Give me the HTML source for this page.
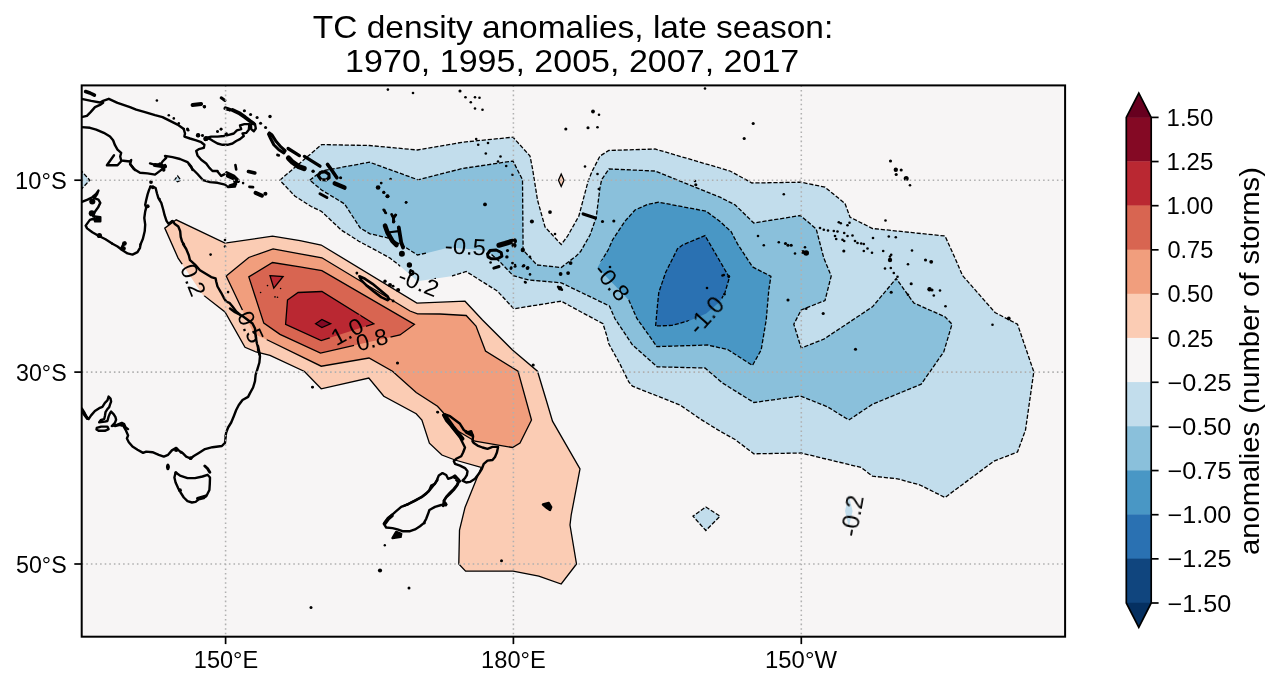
<!DOCTYPE html>
<html lang="en">
<head>
<meta charset="utf-8">
<title>TC density anomalies, late season</title>
<style>
html,body{margin:0;padding:0;background:#ffffff;}
body{width:1280px;height:688px;overflow:hidden;font-family:"Liberation Sans",sans-serif;}
svg{display:block;}
</style>
</head>
<body>
<svg width="1280" height="688" viewBox="0 0 1280 688" role="img" aria-label="TC density anomalies map">
<defs>
<clipPath id="axclip"><rect x="81.7" y="85.4" width="983.4" height="551.3"/></clipPath>
<mask id="lblmask" maskUnits="userSpaceOnUse" x="0" y="0" width="1280" height="688">
<rect x="0" y="0" width="1280" height="688" fill="#fff"/>
<rect x="427.5" y="237.1" width="61.0" height="19.0" fill="#000" transform="rotate(3.0 465.5 246.6)"/>
<rect x="395.5" y="273.0" width="46.0" height="19.0" fill="#000" transform="rotate(22.0 418.5 282.5)"/>
<rect x="589.0" y="272.5" width="46.0" height="19.0" fill="#000" transform="rotate(50.0 612.0 282.0)"/>
<rect x="683.3" y="305.9" width="46.0" height="19.0" fill="#000" transform="rotate(-48.0 706.3 315.4)"/>
<rect x="829.5" y="506.5" width="46.0" height="19.0" fill="#000" transform="rotate(-80.0 852.5 516.0)"/>
<rect x="174.3" y="270.5" width="37.4" height="19.0" fill="#000" transform="rotate(68.0 193.0 280.0)"/>
<rect x="231.8" y="317.5" width="37.4" height="19.0" fill="#000" transform="rotate(65.0 250.5 327.0)"/>
<rect x="328.8" y="321.8" width="37.4" height="19.0" fill="#000" transform="rotate(-28.0 347.5 331.3)"/>
<rect x="353.2" y="330.3" width="37.4" height="19.0" fill="#000" transform="rotate(-15.0 371.9 339.8)"/>
<rect x="436.0" y="271.0" width="16.0" height="12.0" fill="#000"/>
</mask>
</defs>
<rect width="1280" height="688" fill="#ffffff"/>
<g clip-path="url(#axclip)">
<rect x="81.7" y="85.4" width="983.4" height="551.3" fill="#f7f5f5"/>
<polygon points="279.8,180.2 321.6,144.6 369.5,145.5 417.5,150.0 462.5,142.2 513.0,137.2 530.0,156.0 532.5,168.5 537.5,200.0 545.0,226.9 561.2,244.5 567.5,236.2 578.8,216.2 588.1,181.2 592.0,171.5 600.0,156.0 608.8,150.5 655.0,149.0 720.0,168.0 730.0,171.0 752.0,183.0 801.2,182.2 825.0,187.2 845.0,203.5 850.0,217.2 872.5,228.5 945.0,236.0 955.0,258.0 962.5,275.5 995.0,312.5 1017.5,324.2 1033.8,371.8 1025.5,430.0 1017.5,452.0 993.8,461.2 945.0,497.5 920.0,485.0 897.5,478.8 872.5,476.2 861.2,467.5 801.2,453.0 753.8,453.8 735.0,439.5 720.0,431.2 700.0,418.8 680.0,405.0 632.5,386.2 628.8,382.0 620.0,364.1 608.8,343.8 606.9,336.0 603.0,323.8 561.2,301.2 513.8,308.8 497.5,291.2 466.2,271.5 451.2,276.2 417.5,281.3 407.5,272.5 398.8,265.0 390.0,258.1 377.5,251.2 358.8,241.2 341.2,230.0 321.6,211.5 311.2,206.5 295.0,196.2" fill="#c2ddec"/>
<polygon points="705.8,507.0 720.0,516.2 705.8,530.5 693.0,516.2" fill="#c2ddec"/>
<polygon points="848.8,495.0 852.6,511.0 848.8,527.0 845.0,511.0" fill="#c2ddec"/>
<polygon points="80.0,169.4 89.8,180.2 80.0,190.5" fill="#c2ddec"/>
<polygon points="177.6,175.8 180.8,180.2 177.6,181.8 174.4,180.2" fill="#c2ddec"/>
<polygon points="309.8,180.2 321.6,171.0 369.5,162.2 418.0,179.8 462.5,168.5 513.0,161.0 522.5,179.8 523.1,250.0 536.9,265.0 561.2,267.5 576.2,256.0 580.6,251.5 590.0,235.0 596.2,217.5 600.0,187.5 601.7,179.5 609.0,169.0 655.0,171.0 720.0,197.2 735.0,204.8 753.8,223.0 800.5,215.5 816.2,229.0 823.8,258.0 831.2,276.0 825.0,300.5 801.2,310.0 793.8,324.2 801.2,348.0 823.8,339.2 872.5,306.8 896.2,278.5 913.8,303.0 945.0,316.8 952.0,324.2 943.8,351.8 921.2,384.2 872.5,404.2 848.8,420.0 827.5,406.8 800.5,396.0 753.8,402.5 722.5,383.0 705.0,368.0 657.2,366.8 632.5,345.0 615.0,318.8 609.4,306.0 561.2,282.8 528.8,280.0 513.1,275.6 500.0,261.9 487.0,250.5 448.8,247.5 431.2,251.9 417.5,255.0 403.8,246.2 387.5,237.8 370.0,233.8 360.4,228.2 344.4,203.8 321.6,190.0" fill="#8ac0db"/>
<polygon points="597.5,267.5 608.1,250.0 612.5,240.0 625.0,221.2 635.0,210.0 647.5,204.4 658.8,202.2 706.2,211.2 720.0,221.5 731.0,231.5 737.5,243.8 752.5,266.9 770.9,276.3 768.8,290.0 766.2,320.0 761.2,349.8 752.5,365.4 727.5,349.5 707.5,345.0 656.9,346.6 636.9,318.5 628.8,300.0" fill="#4997c5"/>
<polygon points="655.6,326.0 657.5,305.0 658.8,292.5 665.6,272.5 677.5,248.8 682.5,245.0 705.0,235.6 729.4,277.5 725.0,292.5 720.0,301.6 706.2,313.5 690.0,320.4 671.9,325.4" fill="#2a71b2"/>
<polygon points="164.8,228.1 176.2,219.8 225.0,243.1 272.5,236.2 300.0,240.6 321.2,245.0 416.9,303.1 465.0,301.2 482.5,320.0 512.5,350.0 537.5,371.2 546.2,400.0 552.5,421.2 580.0,468.8 571.2,515.0 570.0,525.0 576.5,564.0 561.2,584.0 538.8,576.2 513.1,571.2 465.6,571.2 458.8,564.0 459.5,530.0 465.0,507.5 481.2,467.5 455.0,460.0 441.9,455.0 429.4,443.1 421.9,420.0 416.2,413.8 383.8,396.2 368.8,378.0 321.2,388.8 304.5,371.5 270.0,355.4 256.0,352.0 245.0,347.3 225.0,311.9 202.5,294.4 178.1,258.1" fill="#fbccb4"/>
<polygon points="561.2,174.0 564.0,180.2 561.2,186.5 558.5,180.2" fill="#fbccb4"/>
<polygon points="226.2,276.0 248.8,257.5 273.1,248.8 300.0,253.8 321.9,257.8 410.0,311.0 417.5,313.8 440.0,314.0 466.2,315.5 476.0,326.0 485.5,351.0 518.0,371.2 531.5,420.0 520.0,443.0 512.5,447.5 475.0,441.2 456.2,430.0 443.1,412.5 437.5,406.2 416.2,392.5 392.5,371.2 369.0,358.0 321.2,366.2 267.5,340.0 253.8,333.8 240.0,305.0" fill="#f19e7d"/>
<polygon points="248.8,276.9 272.5,262.5 300.0,266.9 321.9,270.6 414.4,324.4 400.0,335.0 320.5,353.1 280.0,334.4 263.8,323.1" fill="#d86551"/>
<polygon points="287.5,300.0 298.1,292.5 321.9,291.5 373.8,323.8 321.2,340.6 285.6,324.4" fill="#ba2832"/>
<polygon points="270.0,275.6 283.1,276.5 273.8,288.1" fill="#ba2832"/>
<polygon points="315.6,323.8 321.9,319.4 330.6,323.8 321.9,327.5" fill="#840924"/>
<g mask="url(#lblmask)" fill="none" stroke="#000" stroke-width="1.3" stroke-linejoin="miter">
<path d="M279.8 180.2 L321.6 144.6 L369.5 145.5 L417.5 150.0 L462.5 142.2 L513.0 137.2 L530.0 156.0 L532.5 168.5 L537.5 200.0 L545.0 226.9 L561.2 244.5 L567.5 236.2 L578.8 216.2 L588.1 181.2 L592.0 171.5 L600.0 156.0 L608.8 150.5 L655.0 149.0 L720.0 168.0 L730.0 171.0 L752.0 183.0 L801.2 182.2 L825.0 187.2 L845.0 203.5 L850.0 217.2 L872.5 228.5 L945.0 236.0 L955.0 258.0 L962.5 275.5 L995.0 312.5 L1017.5 324.2 L1033.8 371.8 L1025.5 430.0 L1017.5 452.0 L993.8 461.2 L945.0 497.5 L920.0 485.0 L897.5 478.8 L872.5 476.2 L861.2 467.5 L801.2 453.0 L753.8 453.8 L735.0 439.5 L720.0 431.2 L700.0 418.8 L680.0 405.0 L632.5 386.2 L628.8 382.0 L620.0 364.1 L608.8 343.8 L606.9 336.0 L603.0 323.8 L561.2 301.2 L513.8 308.8 L497.5 291.2 L466.2 271.5 L451.2 276.2 L417.5 281.3 L407.5 272.5 L398.8 265.0 L390.0 258.1 L377.5 251.2 L358.8 241.2 L341.2 230.0 L321.6 211.5 L311.2 206.5 L295.0 196.2Z" stroke-dasharray="4.2 1.8"/>
<path d="M705.8 507.0 L720.0 516.2 L705.8 530.5 L693.0 516.2Z" stroke-dasharray="4.2 1.8"/>
<path d="M848.8 495.0 L852.6 511.0 L848.8 527.0 L845.0 511.0Z" stroke-dasharray="4.2 1.8"/>
<path d="M80.0 169.4 L89.8 180.2 L80.0 190.5Z" stroke-dasharray="4.2 1.8"/>
<path d="M177.6 175.8 L180.8 180.2 L177.6 181.8 L174.4 180.2Z" stroke-dasharray="4.2 1.8"/>
<path d="M309.8 180.2 L321.6 171.0 L369.5 162.2 L418.0 179.8 L462.5 168.5 L513.0 161.0 L522.5 179.8 L523.1 250.0 L536.9 265.0 L561.2 267.5 L576.2 256.0 L580.6 251.5 L590.0 235.0 L596.2 217.5 L600.0 187.5 L601.7 179.5 L609.0 169.0 L655.0 171.0 L720.0 197.2 L735.0 204.8 L753.8 223.0 L800.5 215.5 L816.2 229.0 L823.8 258.0 L831.2 276.0 L825.0 300.5 L801.2 310.0 L793.8 324.2 L801.2 348.0 L823.8 339.2 L872.5 306.8 L896.2 278.5 L913.8 303.0 L945.0 316.8 L952.0 324.2 L943.8 351.8 L921.2 384.2 L872.5 404.2 L848.8 420.0 L827.5 406.8 L800.5 396.0 L753.8 402.5 L722.5 383.0 L705.0 368.0 L657.2 366.8 L632.5 345.0 L615.0 318.8 L609.4 306.0 L561.2 282.8 L528.8 280.0 L513.1 275.6 L500.0 261.9 L487.0 250.5 L448.8 247.5 L431.2 251.9 L417.5 255.0 L403.8 246.2 L387.5 237.8 L370.0 233.8 L360.4 228.2 L344.4 203.8 L321.6 190.0Z" stroke-dasharray="4.2 1.8"/>
<path d="M597.5 267.5 L608.1 250.0 L612.5 240.0 L625.0 221.2 L635.0 210.0 L647.5 204.4 L658.8 202.2 L706.2 211.2 L720.0 221.5 L731.0 231.5 L737.5 243.8 L752.5 266.9 L770.9 276.3 L768.8 290.0 L766.2 320.0 L761.2 349.8 L752.5 365.4 L727.5 349.5 L707.5 345.0 L656.9 346.6 L636.9 318.5 L628.8 300.0Z" stroke-dasharray="4.2 1.8"/>
<path d="M655.6 326.0 L657.5 305.0 L658.8 292.5 L665.6 272.5 L677.5 248.8 L682.5 245.0 L705.0 235.6 L729.4 277.5 L725.0 292.5 L720.0 301.6 L706.2 313.5 L690.0 320.4 L671.9 325.4Z" stroke-dasharray="4.2 1.8"/>
<path d="M164.8 228.1 L176.2 219.8 L225.0 243.1 L272.5 236.2 L300.0 240.6 L321.2 245.0 L416.9 303.1 L465.0 301.2 L482.5 320.0 L512.5 350.0 L537.5 371.2 L546.2 400.0 L552.5 421.2 L580.0 468.8 L571.2 515.0 L570.0 525.0 L576.5 564.0 L561.2 584.0 L538.8 576.2 L513.1 571.2 L465.6 571.2 L458.8 564.0 L459.5 530.0 L465.0 507.5 L481.2 467.5 L455.0 460.0 L441.9 455.0 L429.4 443.1 L421.9 420.0 L416.2 413.8 L383.8 396.2 L368.8 378.0 L321.2 388.8 L304.5 371.5 L270.0 355.4 L256.0 352.0 L245.0 347.3 L225.0 311.9 L202.5 294.4 L178.1 258.1Z"/>
<path d="M561.2 174.0 L564.0 180.2 L561.2 186.5 L558.5 180.2Z"/>
<path d="M226.2 276.0 L248.8 257.5 L273.1 248.8 L300.0 253.8 L321.9 257.8 L410.0 311.0 L417.5 313.8 L440.0 314.0 L466.2 315.5 L476.0 326.0 L485.5 351.0 L518.0 371.2 L531.5 420.0 L520.0 443.0 L512.5 447.5 L475.0 441.2 L456.2 430.0 L443.1 412.5 L437.5 406.2 L416.2 392.5 L392.5 371.2 L369.0 358.0 L321.2 366.2 L267.5 340.0 L253.8 333.8 L240.0 305.0Z"/>
<path d="M248.8 276.9 L272.5 262.5 L300.0 266.9 L321.9 270.6 L414.4 324.4 L400.0 335.0 L320.5 353.1 L280.0 334.4 L263.8 323.1Z"/>
<path d="M287.5 300.0 L298.1 292.5 L321.9 291.5 L373.8 323.8 L321.2 340.6 L285.6 324.4Z"/>
<path d="M270.0 275.6 L283.1 276.5 L273.8 288.1Z"/>
<path d="M315.6 323.8 L321.9 319.4 L330.6 323.8 L321.9 327.5Z"/>
</g>
<g fill="none" stroke="#000" stroke-width="2.40" stroke-linejoin="round" stroke-linecap="round">
<path d="M81.5 98.8 L91.2 100.9 L100.0 102.5 L103.1 100.9 L108.8 98.8 L117.5 102.8 L130.0 107.1 L136.2 109.6 L145.0 112.1 L155.0 115.2 L162.5 117.1 L170.0 120.9 L177.5 124.6 L183.8 129.0"/>
<path d="M103.1 102.8 L100.6 104.6 L95.0 107.1 L90.6 112.1 L86.9 115.9 L81.5 117.1"/>
<path d="M85.6 91.5 L90.0 93.0 L94.4 95.2" stroke-width="3.60"/>
<path d="M81.5 127.1 L90.0 127.8 L96.2 129.6 L103.8 132.8 L110.0 136.5 L113.1 140.2 L115.0 145.2 L117.5 149.6 L121.2 152.8 L120.2 156.5 L121.2 160.5 L130.0 161.5 L131.2 160.0 L130.2 164.0 L135.0 170.0"/>
<path d="M114.0 155.2 L106.9 165.2 L117.5 165.2 L121.0 161.5"/>
<path d="M150.0 163.4 L156.2 165.2 L161.2 164.0 L162.5 161.5 L166.2 157.8 L165.0 155.9 L172.5 157.1 L180.0 159.0 L187.5 162.1 L191.2 166.5 L192.5 170.0"/>
<path d="M160.0 164.0 L163.1 167.1 L163.8 170.0" stroke-width="3.40"/>
<path d="M192.5 105.0 L201.2 104.0" stroke-width="3.80"/>
<path d="M221.2 97.8 L225.0 100.5" stroke-width="3.00"/>
<path d="M225.6 108.0 L230.0 109.6" stroke-width="3.40"/>
<path d="M225.0 108.5 L229.4 109.8" stroke-width="3.20"/>
<path d="M232.5 110.0 L238.8 112.9 L245.0 117.2 L250.0 121.0 L253.5 123.5" stroke-width="3.90"/>
<path d="M251.9 122.9 L255.0 124.1 L255.8 128.5 L253.8 131.2 L251.2 129.1 L251.0 125.0Z"/>
<path d="M206.2 137.9 L211.2 136.6 L217.5 136.6 L223.8 136.0 L228.8 134.8 L233.8 133.5 L236.9 130.4 L241.2 129.1 L240.0 125.4 L244.4 124.1 L249.4 124.1 L248.8 129.8 L246.2 132.9 L242.5 133.5 L243.8 136.0 L240.0 139.1 L236.2 141.0 L232.5 143.5 L227.5 144.8 L222.5 144.8 L217.5 143.5 L213.1 141.0 L210.0 139.1Z"/>
<path d="M183.8 129.1 L185.0 133.5 L184.4 136.6 L190.0 138.5 L196.2 140.4 L201.2 142.2 L204.4 144.8 L203.8 147.9 L198.8 149.1 L196.2 151.0 L197.5 155.4 L201.2 159.8 L206.2 163.5 L209.4 167.9 L212.5 171.0 L217.5 171.0"/>
<path d="M235.4 165.0 L236.2 169.5" stroke-width="2.60"/>
<path d="M226.9 173.2 L233.8 176.6 L238.1 181.0" stroke-width="4.00"/>
<path d="M269.4 132.9 L272.1 135.0 L276.2 141.6 L281.2 147.2 L285.2 150.6 L283.8 152.9 L278.8 149.8 L273.8 144.8 L270.6 138.5 L268.5 134.1Z" stroke-width="3.00"/>
<path d="M288.1 148.5 L299.4 155.6" stroke-width="3.30"/>
<path d="M288.5 158.1 L292.5 162.2 L298.8 166.6 L304.1 168.5" stroke-width="5.20"/>
<path d="M304.4 156.4 L320.0 166.2" stroke-width="3.30"/>
<path d="M150.4 186.6 L148.8 190.6 L147.6 194.4 L146.2 200.1 L145.2 204.8 L146.2 207.6 L145.2 211.4 L144.3 218.0 L145.2 224.6 L144.7 231.3 L142.9 238.8 L140.5 244.5"/>
<path d="M150.4 186.6 L153.3 186.8 L155.6 188.0 L157.0 193.5 L158.4 198.2 L161.3 202.9 L163.2 209.5 L164.6 215.2 L166.5 220.9 L168.4 223.7 L172.6 220.9 L174.5 223.7 L178.3 226.5 L180.2 231.3 L180.7 236.9 L182.1 241.7 L184.0 244.5"/>
<path d="M81.9 201.8 L87.6 199.6 L92.3 197.2 L96.1 193.9 L98.4 190.6 L97.0 194.4 L94.2 198.2 L98.4 199.6 L100.3 202.9 L98.0 207.6 L95.1 211.4 L93.2 216.1 L96.5 216.6 L100.3 217.1 L100.3 221.3 L95.1 221.3 L94.2 218.5 L89.9 219.9 L85.7 225.6 L87.1 228.4 L92.3 232.2 L98.0 235.5 L105.5 239.3 L112.1 243.5"/>
<path d="M130.0 164.0 L133.8 169.0 L140.0 172.8 L147.5 173.4 L155.0 174.6 L160.0 170.9 L163.8 167.8 L165.2 165.0"/>
<path d="M155.0 165.0 L165.0 166.5" stroke-width="4.20"/>
<path d="M188.8 164.0 L192.5 169.0 L197.5 174.0 L203.1 180.2 L210.0 182.1 L217.5 182.8 L225.0 184.6 L228.1 187.1 L235.0 186.5 L236.5 180.2 L231.2 175.2 L226.2 173.4 L221.2 175.9 L217.5 171.5"/>
<path d="M227.5 175.9 L234.4 179.0 L235.6 184.0 L230.0 185.9" stroke-width="3.40"/>
<path d="M248.5 171.5 L254.8 173.0" stroke-width="3.60"/>
<path d="M249.4 186.9 L253.1 187.1" stroke-width="2.60"/>
<path d="M255.6 192.8 L261.9 195.6" stroke-width="4.00"/>
<path d="M318.1 175.6 L320.4 172.5 L325.0 171.6 L328.8 174.1 L329.1 177.8 L326.0 180.0 L321.0 179.5Z" stroke-width="3.20"/>
<path d="M327.5 164.4 L332.5 171.2 L336.9 177.8" stroke-width="3.60"/>
<path d="M334.8 183.5 L344.4 187.5" stroke-width="4.60"/>
<path d="M320.0 193.8 L326.9 197.5" stroke-width="3.00"/>
<path d="M384.4 209.8 L385.2 212.8" stroke-width="2.20"/>
<path d="M391.5 214.4 L393.5 218.1 L395.4 214.8" stroke-width="2.40"/>
<path d="M393.5 218.1 L393.5 221.9" stroke-width="2.40"/>
<path d="M383.5 209.8 L386.0 213.0" stroke-width="2.40"/>
<path d="M385.0 225.6 L387.5 232.5 L392.5 241.2 L396.5 245.0" stroke-width="4.60"/>
<path d="M398.8 227.5 L400.0 235.0 L401.2 242.5 L403.1 247.5" stroke-width="3.80"/>
<path d="M387.5 232.5 L398.8 231.2" stroke-width="2.20"/>
<path d="M391.9 214.4 L393.5 218.1 L396.0 215.0" stroke-width="2.40"/>
<path d="M393.5 218.1 L393.5 222.2" stroke-width="2.60"/>
<path d="M359.4 276.2 L365.0 278.8 L372.5 283.8 L380.0 290.0 L387.5 296.2 L389.0 299.0 L387.5 300.2 L381.2 297.1 L373.8 291.5 L366.2 285.2 L361.2 280.2Z" stroke-width="2.60"/>
<path d="M410.6 270.2 L413.1 271.5 L413.1 274.0 L411.0 274.8 L409.8 272.5Z"/>
<path d="M499.0 245.2 L505.0 243.5 L510.0 241.9 L514.4 241.0" stroke-width="5.20"/>
<path d="M487.5 253.8 L490.0 250.6 L496.2 250.0 L501.2 252.5 L501.9 256.2 L497.5 258.8 L491.2 258.8 L488.1 256.9Z" stroke-width="3.00"/>
<path d="M493.8 268.1 L499.0 266.5" stroke-width="3.00"/>
<path d="M583.2 214.0 L595.5 218.0" stroke-width="3.20"/>
<path d="M558.0 286.8 L562.0 289.8" stroke-width="2.40"/>
<path d="M543.0 504.5 L548.8 503.0 L551.2 507.0 L550.0 510.0 L547.0 508.0Z" fill="#000"/>
<path d="M112.0 243.5 L117.5 246.5 L122.5 250.2 L127.5 253.4 L132.5 254.6 L137.5 252.1 L140.0 247.8 L140.5 244.5"/>
<path d="M121.2 249.0 L123.1 245.2 L125.0 242.8" stroke-width="2.80"/>
<path d="M183.1 244.0 L186.2 249.0 L188.8 255.2 L190.0 260.2 L195.0 264.6 L200.0 270.2 L206.2 274.0 L211.2 277.1 L215.6 278.4 L216.2 281.5 L217.5 286.5 L221.2 292.8 L223.8 297.8 L226.2 301.5 L229.4 302.8 L232.5 306.5 L236.2 311.5 L240.0 314.6"/>
<path d="M230.0 308.5 L235.0 312.2 L240.0 314.8 L242.5 316.0 L247.5 319.8 L252.5 323.5 L255.0 328.5 L255.6 336.0 L256.9 343.5 L258.8 349.8 L259.8 354.8"/>
<path d="M258.1 346.2 L258.1 350.0 L260.0 356.2 L259.4 362.5 L257.5 368.8 L255.6 375.0 L255.0 381.2 L253.1 387.5 L250.0 393.1 L248.1 396.9 L242.5 400.0 L238.8 405.0 L236.2 410.0 L233.8 416.2 L231.2 422.5 L228.1 427.5 L226.2 432.5 L225.6 436.0"/>
<path d="M225.8 435.8 L225.4 439.1 L225.0 442.9 L221.9 446.0 L212.5 447.2 L205.0 449.1 L198.8 452.9 L193.8 456.0 L190.6 458.5 L186.2 456.6 L182.5 452.9 L179.4 451.0 L176.2 447.9 L171.9 450.4 L168.1 454.8 L163.8 456.6 L158.8 454.8 L152.5 452.2 L146.2 451.6 L143.1 452.9 L137.5 449.8 L132.5 446.6 L128.8 442.2 L126.9 438.5 L128.1 435.4 L125.6 429.8 L123.1 425.4 L120.0 424.8 L115.0 426.0"/>
<path d="M81.8 408.5 L84.9 413.5 L86.8 417.2 L88.6 419.1 L91.1 415.4 L94.9 411.0 L99.2 408.2 L102.4 406.9 L104.9 402.9 L107.4 400.4 L108.6 396.6 L110.5 398.5 L111.1 401.6 L109.9 404.8 L109.2 407.2 L107.4 409.1 L105.5 412.2 L104.9 416.0 L104.2 419.1 L101.1 419.8 L99.2 422.2 L104.9 421.6 L107.4 421.0 L108.6 416.6 L109.9 413.5 L111.1 411.6 L113.6 414.1 L115.5 417.2 L116.1 419.8 L114.9 422.9 L113.0 424.8 L111.8 426.0 L116.8 424.8 L121.8 422.9 L124.2 424.1 L125.5 427.2 L128.0 429.1"/>
<path d="M96.8 427.9 L101.1 426.6 L107.4 426.6 L108.6 429.1 L104.9 430.8 L98.6 430.8 L96.5 429.5Z"/>
<path d="M81.8 411.0 L87.4 418.5" stroke-width="3.00"/>
<path d="M175.6 472.5 L180.0 475.6 L187.5 478.1 L195.0 478.1 L202.5 476.5 L207.5 474.8 L210.0 477.5 L209.8 483.8 L209.4 490.0 L206.9 495.0 L203.8 498.1 L198.8 499.4 L195.6 501.9 L191.9 502.5 L187.5 501.2 L183.8 497.5 L180.6 492.5 L178.1 488.1 L175.6 482.5 L174.4 477.5Z"/>
<path d="M204.8 466.0 L207.5 468.5 L209.8 472.2" stroke-width="3.00"/>
<path d="M197.5 498.5 L206.0 496.0" stroke-width="3.00"/>
<path d="M167.9 465.0 L167.9 468.8" stroke-width="3.00"/>
<path d="M443.1 415.0 L446.2 420.6 L450.0 425.0 L455.0 431.2 L460.0 437.5 L462.5 442.5 L465.0 447.5 L463.1 452.5 L461.2 456.2 L456.2 458.8 L453.8 461.2 L455.0 463.8 L460.0 465.6 L465.0 468.1 L467.5 471.2 L466.9 475.0 L465.0 478.1 L462.5 480.6 L466.2 482.5 L470.0 481.9 L475.0 478.8 L478.8 473.8 L481.9 468.8 L483.8 463.8 L487.5 460.6 L492.5 460.0 L495.0 456.9 L496.9 452.5 L498.1 446.9 L492.5 446.9 L487.5 448.8 L482.5 447.5 L477.5 445.6 L473.8 443.1 L472.5 441.2 L473.1 436.2 L471.2 431.2 L467.5 432.5 L463.8 430.0 L460.0 423.8 L455.0 420.0 L450.0 416.2 L445.0 414.4"/>
<path d="M444.4 415.0 L448.1 420.0 L452.5 426.2 L457.5 432.5 L462.5 438.8" stroke-width="4.00"/>
<path d="M466.2 431.9 L471.9 435.0" stroke-width="3.40"/>
<path d="M460.0 481.2 L458.1 478.8 L455.0 475.6 L451.9 477.5 L448.1 478.8 L446.2 475.0 L442.5 473.1 L438.8 475.6 L436.9 480.0 L435.0 483.8 L431.2 485.6 L429.4 490.0 L426.2 493.8 L421.2 497.5 L415.0 500.6 L408.8 503.8 L403.8 506.0"/>
<path d="M458.8 481.9 L457.5 485.0 L453.8 490.0 L450.0 493.8 L446.2 497.5 L443.8 501.2 L443.1 506.0"/>
<path d="M407.5 504.4 L401.2 506.9 L396.2 511.2 L391.2 515.6 L386.9 520.0 L383.8 523.8 L386.2 527.5 L392.5 528.1 L397.5 529.4 L402.5 531.2 L410.0 531.2 L415.0 529.4 L420.0 526.2 L423.8 523.1 L426.2 518.8 L428.1 513.8 L429.4 510.0 L435.0 506.9 L441.2 505.0 L446.2 504.4 L443.8 500.6 L446.2 496.9 L450.0 492.5 L453.8 488.8 L456.9 485.0 L458.1 481.9 L456.2 480.0"/>
<path d="M437.5 480.0 L433.8 485.0 L428.8 491.2 L422.5 496.2 L415.0 500.6 L407.5 504.4"/>
<path d="M385.0 523.1 L388.1 518.8 L391.9 515.6" stroke-width="3.80"/>
<path d="M392.5 538.1 L396.2 531.9 L401.2 533.8 L400.6 536.9Z" fill="#000"/>
</g>
<g fill="#000">
<circle cx="204.4" cy="106.8" r="1.72"/>
<circle cx="156.9" cy="100.5" r="1.30"/>
<circle cx="168.8" cy="115.2" r="1.30"/>
<circle cx="173.8" cy="118.4" r="1.30"/>
<circle cx="178.8" cy="123.4" r="1.30"/>
<circle cx="188.1" cy="130.2" r="1.41"/>
<circle cx="198.1" cy="135.2" r="2.19"/>
<circle cx="202.5" cy="135.2" r="1.30"/>
<circle cx="205.6" cy="139.0" r="2.19"/>
<circle cx="217.5" cy="131.5" r="1.30"/>
<circle cx="221.0" cy="129.2" r="1.41"/>
<circle cx="226.2" cy="134.0" r="1.56"/>
<circle cx="244.4" cy="110.8" r="1.56"/>
<circle cx="250.6" cy="114.5" r="1.56"/>
<circle cx="257.1" cy="117.5" r="1.56"/>
<circle cx="260.6" cy="123.2" r="1.56"/>
<circle cx="265.6" cy="127.5" r="1.56"/>
<circle cx="270.0" cy="116.5" r="1.72"/>
<circle cx="221.2" cy="129.1" r="1.30"/>
<circle cx="217.5" cy="131.6" r="1.30"/>
<circle cx="226.2" cy="133.5" r="1.41"/>
<circle cx="187.5" cy="129.1" r="1.56"/>
<circle cx="198.1" cy="135.4" r="1.88"/>
<circle cx="202.5" cy="135.8" r="1.30"/>
<circle cx="206.0" cy="138.5" r="2.50"/>
<circle cx="204.4" cy="106.6" r="1.56"/>
<circle cx="278.8" cy="155.4" r="1.30"/>
<circle cx="387.9" cy="89.6" r="1.30"/>
<circle cx="152.8" cy="187.3" r="1.89"/>
<circle cx="147.6" cy="206.2" r="2.01"/>
<circle cx="159.4" cy="199.1" r="1.42"/>
<circle cx="172.2" cy="221.6" r="1.65"/>
<circle cx="151.0" cy="182.1" r="1.88"/>
<circle cx="92.3" cy="201.5" r="3.07"/>
<circle cx="91.8" cy="213.3" r="3.07"/>
<circle cx="97.5" cy="219.2" r="2.60"/>
<circle cx="99.4" cy="235.5" r="2.60"/>
<circle cx="124.4" cy="243.5" r="2.36"/>
<circle cx="243.1" cy="183.1" r="1.30"/>
<circle cx="265.4" cy="193.8" r="2.03"/>
<circle cx="313.1" cy="171.2" r="1.72"/>
<circle cx="340.6" cy="177.8" r="1.56"/>
<circle cx="378.1" cy="187.5" r="2.34"/>
<circle cx="381.2" cy="183.1" r="1.41"/>
<circle cx="383.8" cy="192.2" r="1.41"/>
<circle cx="387.5" cy="196.2" r="1.72"/>
<circle cx="390.6" cy="179.0" r="1.30"/>
<circle cx="277.5" cy="155.0" r="1.41"/>
<circle cx="393.8" cy="221.2" r="1.56"/>
<circle cx="383.8" cy="192.5" r="1.56"/>
<circle cx="387.5" cy="196.2" r="2.03"/>
<circle cx="406.0" cy="202.5" r="1.30"/>
<circle cx="401.9" cy="253.8" r="2.97"/>
<circle cx="409.4" cy="265.0" r="2.66"/>
<circle cx="356.9" cy="273.1" r="1.30"/>
<circle cx="356.9" cy="273.1" r="1.30"/>
<circle cx="385.0" cy="281.2" r="1.72"/>
<circle cx="390.0" cy="285.0" r="2.03"/>
<circle cx="393.1" cy="286.2" r="1.41"/>
<circle cx="398.1" cy="290.0" r="2.03"/>
<circle cx="393.1" cy="301.0" r="1.41"/>
<circle cx="514.0" cy="245.2" r="2.50"/>
<circle cx="507.5" cy="250.6" r="1.56"/>
<circle cx="506.9" cy="256.9" r="1.72"/>
<circle cx="490.6" cy="262.5" r="1.30"/>
<circle cx="512.5" cy="263.1" r="1.41"/>
<circle cx="515.0" cy="266.2" r="1.56"/>
<circle cx="511.0" cy="268.5" r="1.41"/>
<circle cx="523.8" cy="265.6" r="1.56"/>
<circle cx="527.5" cy="268.1" r="1.88"/>
<circle cx="530.0" cy="274.4" r="1.30"/>
<circle cx="525.6" cy="282.5" r="1.30"/>
<circle cx="522.8" cy="250.0" r="2.19"/>
<circle cx="485.0" cy="204.4" r="1.88"/>
<circle cx="550.0" cy="212.1" r="1.88"/>
<circle cx="531.9" cy="221.5" r="2.03"/>
<circle cx="555.0" cy="234.0" r="1.30"/>
<circle cx="570.6" cy="263.1" r="1.88"/>
<circle cx="560.6" cy="274.0" r="1.88"/>
<circle cx="568.1" cy="273.1" r="1.88"/>
<circle cx="530.0" cy="256.9" r="1.30"/>
<circle cx="413.0" cy="93.0" r="1.30"/>
<circle cx="460.0" cy="91.0" r="1.56"/>
<circle cx="465.5" cy="97.2" r="1.30"/>
<circle cx="470.8" cy="102.2" r="1.30"/>
<circle cx="475.0" cy="97.2" r="1.30"/>
<circle cx="479.5" cy="97.8" r="1.30"/>
<circle cx="475.0" cy="108.5" r="1.30"/>
<circle cx="482.5" cy="109.8" r="1.30"/>
<circle cx="476.2" cy="139.0" r="1.30"/>
<circle cx="478.2" cy="144.8" r="1.30"/>
<circle cx="488.0" cy="143.0" r="1.30"/>
<circle cx="485.8" cy="153.5" r="1.30"/>
<circle cx="500.5" cy="156.5" r="1.30"/>
<circle cx="498.0" cy="161.5" r="1.30"/>
<circle cx="506.2" cy="166.0" r="1.30"/>
<circle cx="512.5" cy="174.8" r="1.30"/>
<circle cx="406.2" cy="202.2" r="1.30"/>
<circle cx="565.8" cy="129.0" r="1.56"/>
<circle cx="588.0" cy="127.8" r="1.56"/>
<circle cx="597.5" cy="127.2" r="1.30"/>
<circle cx="593.0" cy="111.5" r="1.88"/>
<circle cx="599.0" cy="114.8" r="1.30"/>
<circle cx="705.0" cy="88.5" r="1.30"/>
<circle cx="585.0" cy="166.5" r="1.30"/>
<circle cx="597.5" cy="174.0" r="1.30"/>
<circle cx="598.8" cy="189.0" r="1.30"/>
<circle cx="602.5" cy="221.5" r="1.56"/>
<circle cx="613.8" cy="221.0" r="1.56"/>
<circle cx="695.0" cy="181.0" r="1.30"/>
<circle cx="695.8" cy="184.8" r="1.56"/>
<circle cx="753.2" cy="123.5" r="1.56"/>
<circle cx="744.2" cy="138.5" r="1.56"/>
<circle cx="783.8" cy="194.2" r="1.30"/>
<circle cx="890.5" cy="161.0" r="1.56"/>
<circle cx="895.8" cy="169.8" r="2.19"/>
<circle cx="901.2" cy="170.0" r="1.56"/>
<circle cx="896.2" cy="174.5" r="1.56"/>
<circle cx="906.2" cy="178.5" r="2.50"/>
<circle cx="910.0" cy="185.2" r="1.30"/>
<circle cx="885.5" cy="220.5" r="1.30"/>
<circle cx="838.8" cy="222.2" r="1.30"/>
<circle cx="840.8" cy="223.2" r="1.30"/>
<circle cx="849.5" cy="222.8" r="1.30"/>
<circle cx="847.5" cy="225.2" r="1.30"/>
<circle cx="820.0" cy="228.0" r="1.30"/>
<circle cx="823.8" cy="229.8" r="1.30"/>
<circle cx="828.0" cy="230.5" r="1.30"/>
<circle cx="833.8" cy="231.0" r="1.30"/>
<circle cx="837.5" cy="231.5" r="1.30"/>
<circle cx="844.2" cy="233.0" r="1.30"/>
<circle cx="835.0" cy="236.0" r="1.30"/>
<circle cx="836.2" cy="239.0" r="1.30"/>
<circle cx="847.5" cy="236.0" r="1.30"/>
<circle cx="842.5" cy="239.8" r="1.30"/>
<circle cx="844.2" cy="241.0" r="1.30"/>
<circle cx="852.5" cy="235.5" r="1.30"/>
<circle cx="855.0" cy="241.0" r="1.30"/>
<circle cx="857.5" cy="243.0" r="1.30"/>
<circle cx="861.2" cy="243.5" r="1.30"/>
<circle cx="863.8" cy="244.0" r="1.30"/>
<circle cx="873.0" cy="238.0" r="1.30"/>
<circle cx="888.8" cy="236.5" r="1.30"/>
<circle cx="895.8" cy="237.2" r="1.30"/>
<circle cx="867.5" cy="248.5" r="1.30"/>
<circle cx="863.8" cy="251.0" r="1.30"/>
<circle cx="872.0" cy="252.8" r="1.30"/>
<circle cx="843.8" cy="251.0" r="1.56"/>
<circle cx="883.2" cy="251.0" r="1.30"/>
<circle cx="912.0" cy="250.5" r="1.30"/>
<circle cx="891.2" cy="254.8" r="1.30"/>
<circle cx="890.0" cy="256.5" r="1.30"/>
<circle cx="785.5" cy="243.5" r="1.56"/>
<circle cx="788.0" cy="245.2" r="1.56"/>
<circle cx="791.2" cy="245.2" r="1.56"/>
<circle cx="778.8" cy="242.2" r="1.30"/>
<circle cx="758.0" cy="236.0" r="1.30"/>
<circle cx="763.8" cy="245.2" r="1.30"/>
<circle cx="805.0" cy="247.2" r="1.30"/>
<circle cx="806.2" cy="253.0" r="2.81"/>
<circle cx="803.0" cy="252.0" r="1.88"/>
<circle cx="795.0" cy="253.5" r="1.30"/>
<circle cx="788.0" cy="300.0" r="1.56"/>
<circle cx="823.2" cy="313.5" r="1.56"/>
<circle cx="806.2" cy="308.8" r="1.30"/>
<circle cx="855.5" cy="349.2" r="1.56"/>
<circle cx="891.2" cy="292.2" r="1.56"/>
<circle cx="911.2" cy="283.8" r="1.56"/>
<circle cx="908.0" cy="294.8" r="1.30"/>
<circle cx="929.5" cy="289.2" r="2.19"/>
<circle cx="932.0" cy="290.0" r="1.56"/>
<circle cx="940.0" cy="290.5" r="1.30"/>
<circle cx="933.8" cy="295.5" r="1.30"/>
<circle cx="945.5" cy="306.2" r="1.30"/>
<circle cx="1008.8" cy="318.5" r="1.88"/>
<circle cx="992.5" cy="324.8" r="1.30"/>
<circle cx="890.0" cy="260.0" r="2.19"/>
<circle cx="885.0" cy="268.5" r="1.30"/>
<circle cx="890.8" cy="268.0" r="1.30"/>
<circle cx="893.8" cy="273.0" r="1.30"/>
<circle cx="897.5" cy="276.8" r="1.30"/>
<circle cx="925.5" cy="260.0" r="1.56"/>
<circle cx="931.2" cy="261.8" r="1.88"/>
<circle cx="908.0" cy="264.2" r="1.30"/>
<circle cx="722.5" cy="275.5" r="1.30"/>
<circle cx="728.8" cy="276.8" r="1.30"/>
<circle cx="724.5" cy="294.2" r="1.30"/>
<circle cx="560.0" cy="288.2" r="2.19"/>
<circle cx="533.2" cy="365.0" r="1.56"/>
<circle cx="707.0" cy="288.0" r="1.30"/>
<circle cx="610.0" cy="267.0" r="1.30"/>
<circle cx="511.2" cy="267.5" r="1.30"/>
<circle cx="515.0" cy="265.0" r="1.30"/>
<circle cx="523.0" cy="266.2" r="1.30"/>
<circle cx="528.0" cy="267.5" r="1.30"/>
<circle cx="525.0" cy="282.0" r="1.30"/>
<circle cx="723.8" cy="275.0" r="1.30"/>
<circle cx="728.8" cy="276.2" r="1.30"/>
<circle cx="397.5" cy="363.0" r="1.56"/>
<circle cx="312.5" cy="387.0" r="1.30"/>
<circle cx="437.5" cy="412.0" r="1.30"/>
<circle cx="311.0" cy="607.5" r="1.50"/>
<circle cx="380.0" cy="570.5" r="2.10"/>
<circle cx="409.0" cy="588.0" r="1.50"/>
<circle cx="384.8" cy="545.2" r="1.20"/>
<circle cx="501.5" cy="560.8" r="1.50"/>
<circle cx="123.8" cy="248.4" r="2.03"/>
<circle cx="210.6" cy="254.6" r="1.30"/>
<circle cx="225.0" cy="246.5" r="1.30"/>
<circle cx="228.1" cy="292.1" r="1.30"/>
<circle cx="225.0" cy="240.0" r="1.30"/>
<circle cx="312.5" cy="387.2" r="1.30"/>
<circle cx="121.9" cy="424.8" r="1.88"/>
<circle cx="190.6" cy="458.2" r="1.88"/>
<circle cx="176.2" cy="449.8" r="2.19"/>
<circle cx="181.2" cy="452.2" r="1.56"/>
<circle cx="167.9" cy="466.9" r="2.03"/>
<circle cx="180.0" cy="490.2" r="1.88"/>
<circle cx="176.0" cy="472.8" r="1.56"/>
<circle cx="455.0" cy="477.2" r="2.03"/>
<circle cx="437.8" cy="412.2" r="1.30"/>
<circle cx="445.2" cy="504.4" r="2.19"/>
<circle cx="424.4" cy="523.1" r="1.41"/>
<circle cx="260.6" cy="292.5" r="0.80"/>
<circle cx="267.5" cy="285.6" r="0.80"/>
<circle cx="280.6" cy="288.5" r="0.80"/>
<circle cx="275.0" cy="296.9" r="0.80"/>
<circle cx="277.5" cy="297.2" r="0.80"/>
</g>
<g font-family='"Liberation Sans", sans-serif' font-size="23" fill="#000" opacity="0.999">
<text transform="translate(465.5 246.6) rotate(3.0) translate(-20.56 7.9) scale(1.0360 1)">-0.5</text>
<text transform="translate(418.5 282.5) rotate(22.0) translate(-20.56 7.9) scale(1.0413 1)">-0.2</text>
<text transform="translate(612.0 282.0) rotate(50.0) translate(-20.56 7.9) scale(1.0369 1)">-0.8</text>
<text transform="translate(706.3 315.4) rotate(-48.0) translate(-20.56 7.9) scale(1.0342 1)">-1.0</text>
<text transform="translate(852.5 516.0) rotate(-80.0) translate(-20.56 7.9) scale(1.0413 1)">-0.2</text>
<text transform="translate(193.0 280.0) rotate(68.0) translate(-16.11 7.9) scale(1.0161 1)">0.2</text>
<text transform="translate(250.5 327.0) rotate(65.0) translate(-16.11 7.9) scale(1.0097 1)">0.5</text>
<text transform="translate(347.5 331.3) rotate(-28.0) translate(-17.02 7.9) scale(1.0367 1)">1.0</text>
<text transform="translate(371.9 339.8) rotate(-15.0) translate(-16.11 7.9) scale(1.0108 1)">0.8</text>
</g>
<g stroke="#b0b0b0" stroke-width="1.55" stroke-dasharray="1.55 3.05" fill="none">
<line x1="225.6" y1="85.4" x2="225.6" y2="636.7"/>
<line x1="513.4" y1="85.4" x2="513.4" y2="636.7"/>
<line x1="801.3" y1="85.4" x2="801.3" y2="636.7"/>
<line x1="81.7" y1="180.2" x2="1065.1" y2="180.2"/>
<line x1="81.7" y1="372.1" x2="1065.1" y2="372.1"/>
<line x1="81.7" y1="564.0" x2="1065.1" y2="564.0"/>
</g>
</g>
<rect x="81.7" y="85.4" width="983.4" height="551.3" fill="none" stroke="#000" stroke-width="2"/>
<g stroke="#000" stroke-width="1.7">
<line x1="225.6" y1="636.7" x2="225.6" y2="644.1"/>
<line x1="513.4" y1="636.7" x2="513.4" y2="644.1"/>
<line x1="801.3" y1="636.7" x2="801.3" y2="644.1"/>
<line x1="74.3" y1="180.2" x2="81.7" y2="180.2"/>
<line x1="74.3" y1="372.1" x2="81.7" y2="372.1"/>
<line x1="74.3" y1="564.0" x2="81.7" y2="564.0"/>
</g>
<g font-family='"Liberation Sans", sans-serif' fill="#000" opacity="0.999">
<text transform="translate(193.81 667.80) scale(1.0245 1)" font-size="23.00">150°E</text>
<text transform="translate(481.10 667.80) scale(1.0279 1)" font-size="23.00">180°E</text>
<text transform="translate(765.08 667.80) scale(1.0378 1)" font-size="23.00">150°W</text>
<text transform="translate(15.10 189.10) scale(1.0293 1)" font-size="23.00">10°S</text>
<text transform="translate(16.01 381.00) scale(1.0106 1)" font-size="23.00">30°S</text>
<text transform="translate(15.97 572.90) scale(1.0115 1)" font-size="23.00">50°S</text>
<text transform="translate(312.85 38.30) scale(1.0689 1)" font-size="31.30">TC density anomalies, late season:</text>
<text transform="translate(345.11 72.20) scale(1.0876 1)" font-size="31.30">1970, 1995, 2005, 2007, 2017</text>
</g>
<rect x="1126.3" y="117.20" width="24.9" height="44.55" fill="#840924"/>
<rect x="1126.3" y="161.35" width="24.9" height="44.55" fill="#ba2832"/>
<rect x="1126.3" y="205.49" width="24.9" height="44.55" fill="#d86551"/>
<rect x="1126.3" y="249.64" width="24.9" height="44.55" fill="#f19e7d"/>
<rect x="1126.3" y="293.78" width="24.9" height="44.55" fill="#fbccb4"/>
<rect x="1126.3" y="337.93" width="24.9" height="44.55" fill="#f7f5f5"/>
<rect x="1126.3" y="382.07" width="24.9" height="44.55" fill="#c2ddec"/>
<rect x="1126.3" y="426.22" width="24.9" height="44.55" fill="#8ac0db"/>
<rect x="1126.3" y="470.36" width="24.9" height="44.55" fill="#4997c5"/>
<rect x="1126.3" y="514.51" width="24.9" height="44.55" fill="#2a71b2"/>
<rect x="1126.3" y="558.65" width="24.9" height="44.55" fill="#10457e"/>
<polygon points="1126.3,117.7 1138.8,93.1 1151.2,117.7" fill="#67001f"/>
<polygon points="1126.3,602.7 1138.8,627.3 1151.2,602.7" fill="#053061"/>
<path d="M1126.3 117.4 L1138.8 93.1 L1151.2 117.4 L1151.2 603.0 L1138.8 627.3 L1126.3 603.0 Z" fill="none" stroke="#000" stroke-width="1.7" stroke-linejoin="miter"/>
<g stroke="#000" stroke-width="1.7">
<line x1="1151.2" y1="117.40" x2="1158.6" y2="117.40"/>
<line x1="1151.2" y1="161.55" x2="1158.6" y2="161.55"/>
<line x1="1151.2" y1="205.69" x2="1158.6" y2="205.69"/>
<line x1="1151.2" y1="249.84" x2="1158.6" y2="249.84"/>
<line x1="1151.2" y1="293.98" x2="1158.6" y2="293.98"/>
<line x1="1151.2" y1="338.13" x2="1158.6" y2="338.13"/>
<line x1="1151.2" y1="382.27" x2="1158.6" y2="382.27"/>
<line x1="1151.2" y1="426.42" x2="1158.6" y2="426.42"/>
<line x1="1151.2" y1="470.56" x2="1158.6" y2="470.56"/>
<line x1="1151.2" y1="514.71" x2="1158.6" y2="514.71"/>
<line x1="1151.2" y1="558.85" x2="1158.6" y2="558.85"/>
<line x1="1151.2" y1="603.00" x2="1158.6" y2="603.00"/>
</g>
<g font-family='"Liberation Sans", sans-serif' fill="#000" opacity="0.999">
<text transform="translate(1166.57 125.90) scale(1.0424 1)" font-size="23.00">1.50</text>
<text transform="translate(1166.57 170.05) scale(1.0441 1)" font-size="23.00">1.25</text>
<text transform="translate(1166.57 214.19) scale(1.0424 1)" font-size="23.00">1.00</text>
<text transform="translate(1167.48 258.34) scale(1.0233 1)" font-size="23.00">0.75</text>
<text transform="translate(1167.48 302.48) scale(1.0217 1)" font-size="23.00">0.50</text>
<text transform="translate(1167.48 346.63) scale(1.0233 1)" font-size="23.00">0.25</text>
<text transform="translate(1167.55 390.77) scale(1.0981 1)" font-size="23.00">−0.25</text>
<text transform="translate(1167.56 434.92) scale(1.0968 1)" font-size="23.00">−0.50</text>
<text transform="translate(1167.55 479.06) scale(1.0981 1)" font-size="23.00">−0.75</text>
<text transform="translate(1167.56 523.21) scale(1.0968 1)" font-size="23.00">−1.00</text>
<text transform="translate(1167.55 567.35) scale(1.0981 1)" font-size="23.00">−1.25</text>
<text transform="translate(1167.56 611.50) scale(1.0968 1)" font-size="23.00">−1.50</text>
<text transform="translate(1259.0 554.99) rotate(-90) scale(1.0585 1)" font-size="27.60">anomalies (number of storms)</text>
</g>
</svg>
</body>
</html>
